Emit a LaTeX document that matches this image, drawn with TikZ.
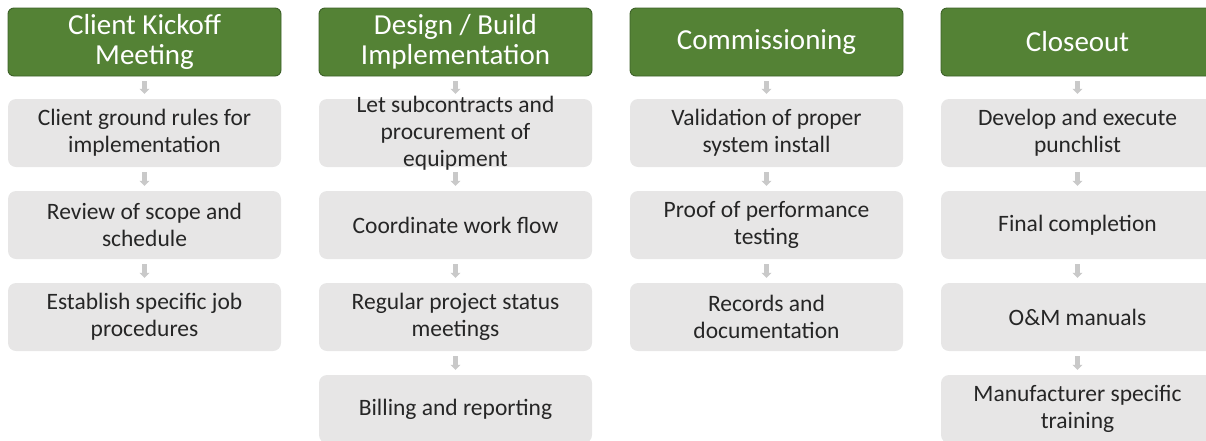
\documentclass[tikz,border=0pt]{standalone}
\usepackage{fontspec}
\setmainfont{Carlito}
\usetikzlibrary{arrows.meta}
\definecolor{hdrgreen}{HTML}{548235}
\definecolor{hdrborder}{HTML}{3D6128}
\definecolor{boxgray}{HTML}{E7E6E6}
\definecolor{arrgray}{HTML}{C9C9C9}
\definecolor{txtdark}{HTML}{262626}
\tikzset{
  hdr/.style={draw=hdrborder, line width=0.9pt, fill=hdrgreen, rounded corners=6pt,
    minimum width=273pt, minimum height=68pt, inner sep=0pt},
  hdrtext/.style={text=white, align=center, inner sep=0pt,
    font=\fontsize{29pt}{30pt}\selectfont},
  gbox/.style={fill=boxgray, rounded corners=8pt,
    minimum width=273pt, minimum height=68pt, inner sep=0pt},
  gtext/.style={text=txtdark, align=center, inner sep=0pt,
    font=\fontsize{23.5pt}{27pt}\selectfont},
  flow/.style={draw=arrgray, line width=5pt,
    -{Triangle[width=10pt,length=5pt]}, shorten <=5pt, shorten >=5pt}
}
\begin{document}
\begin{tikzpicture}[x=1pt,y=-1pt]
\useasboundingbox (0,0) rectangle (1206,440);
\clip (0,0) rectangle (1206,440);
% column 1
\node[hdr, label={[hdrtext]center:Client Kickoff\\Meeting}] (h1) at (144.5,42) {};
\node[gbox, label={[gtext]center:Client ground rules for\\implementation}] (a1) at (144.5,133) {};
\node[gbox, label={[gtext]center:Review of scope and\\schedule}] (a2) at (144.5,225) {};
\node[gbox, label={[gtext]center:Establish specific job\\procedures}] (a3) at (144.5,317) {};
% column 2
\node[hdr, label={[hdrtext]center:Design / Build\\Implementation}] (h2) at (455.5,42) {};
\node[gbox, label={[gtext]center:Let subcontracts and\\procurement of\\equipment}] (b1) at (455.5,133) {};
\node[gbox, label={[gtext]center:Coordinate work flow}] (b2) at (455.5,225) {};
\node[gbox, label={[gtext]center:Regular project status\\meetings}] (b3) at (455.5,317) {};
\node[gbox, label={[gtext]center:Billing and reporting}] (b4) at (455.5,409) {};
% column 3
\node[hdr, label={[hdrtext]center:Commissioning}] (h3) at (766.5,42) {};
\node[gbox, label={[gtext]center:Validation of proper\\system install}] (c1) at (766.5,133) {};
\node[gbox, label={[gtext]center:Proof of performance\\testing}] (c2) at (766.5,225) {};
\node[gbox, label={[gtext]center:Records and\\documentation}] (c3) at (766.5,317) {};
% column 4
\node[hdr, label={[hdrtext]center:Closeout}] (h4) at (1077.5,42) {};
\node[gbox, label={[gtext]center:Develop and execute\\punchlist}] (d1) at (1077.5,133) {};
\node[gbox, label={[gtext]center:Final completion}] (d2) at (1077.5,225) {};
\node[gbox, label={[gtext]center:O\&M manuals}] (d3) at (1077.5,317) {};
\node[gbox, label={[gtext]center:Manufacturer specific\\training}] (d4) at (1077.5,409) {};
% connectors
\draw[flow] (h1.south) -- (a1.north);
\draw[flow] (a1.south) -- (a2.north);
\draw[flow] (a2.south) -- (a3.north);
\draw[flow] (h2.south) -- (b1.north);
\draw[flow] (b1.south) -- (b2.north);
\draw[flow] (b2.south) -- (b3.north);
\draw[flow] (b3.south) -- (b4.north);
\draw[flow] (h3.south) -- (c1.north);
\draw[flow] (c1.south) -- (c2.north);
\draw[flow] (c2.south) -- (c3.north);
\draw[flow] (h4.south) -- (d1.north);
\draw[flow] (d1.south) -- (d2.north);
\draw[flow] (d2.south) -- (d3.north);
\draw[flow] (d3.south) -- (d4.north);
\end{tikzpicture}
\end{document}
